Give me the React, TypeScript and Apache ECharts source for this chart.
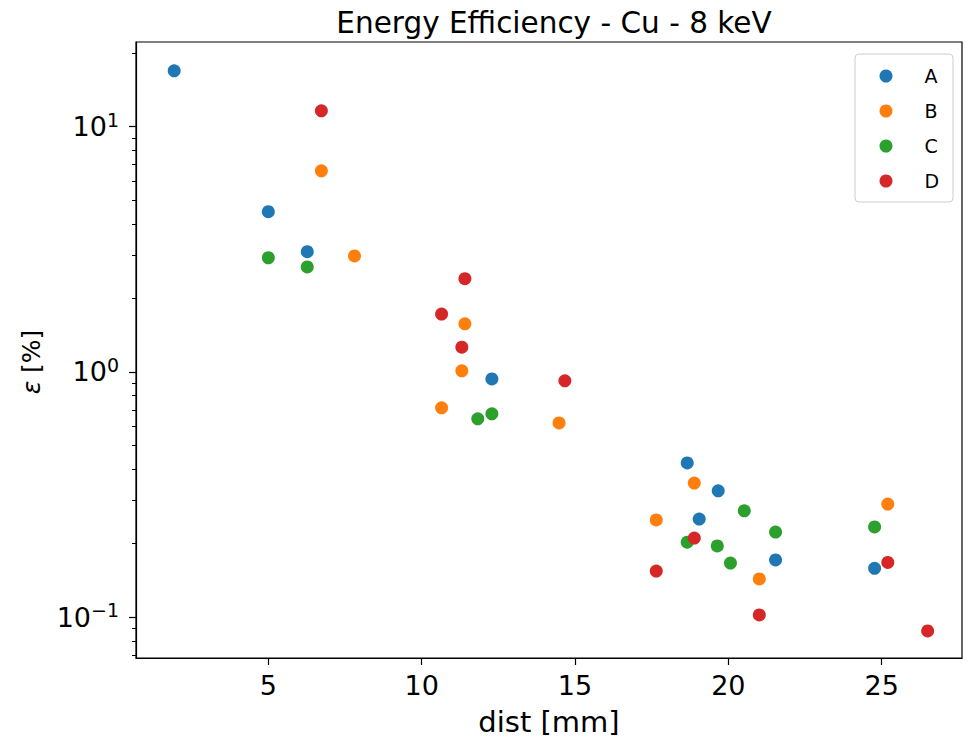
import React, { useEffect, useRef } from "react";
import * as echarts from "echarts";

const seriesNames = ["A", "B", "C", "D"];
const seriesColors = ["#1f77b4", "#ff7f0e", "#2ca02c", "#d62728"];

const aX = [1.93, 5.0, 6.27, 12.29, 18.66, 19.67, 19.05, 21.54, 24.77];
const aY = [16.9, 4.5, 3.09, 0.936, 0.425, 0.327, 0.251, 0.171, 0.158];

const bX = [6.73, 7.81, 11.41, 11.31, 10.65, 14.48, 18.89, 17.65, 21.01, 25.2];
const bY = [6.61, 2.97, 1.57, 1.01, 0.713, 0.619, 0.352, 0.249, 0.143, 0.289];

const cX = [5.0, 6.27, 11.83, 12.29, 18.66, 19.64, 20.07, 20.52, 21.54, 24.77];
const cY = [2.92, 2.68, 0.643, 0.674, 0.202, 0.195, 0.166, 0.271, 0.222, 0.233];

const dX = [6.73, 11.41, 10.65, 11.31, 14.67, 18.89, 17.65, 21.01, 25.2, 26.5];
const dY = [11.6, 2.4, 1.72, 1.26, 0.919, 0.21, 0.154, 0.102, 0.167, 0.0877];

const xTicks = [5, 10, 15, 20, 25];
const yMajorTicks = [0.1, 1, 10];
const yMinorTicks = [0.07, 0.08, 0.09, 0.2, 0.3, 0.4, 0.5, 0.6, 0.7, 0.8, 0.9, 2, 3, 4, 5, 6, 7, 8, 9, 20];

const FONT = "DejaVu Sans";

export default function App() {
  const ref = useRef<HTMLDivElement>(null);
  useEffect(() => {
    if (!ref.current) return;
    const chart = echarts.init(ref.current, undefined, { renderer: "svg" });
    const xs = [aX, bX, cX, dX];
    const ys = [aY, bY, cY, dY];
    const series = seriesNames.map((name, i) => ({
      name,
      type: "scatter",
      symbol: "circle",
      symbolSize: 13,
      itemStyle: { color: seriesColors[i], opacity: 1 },
      data: xs[i].map((x, j) => [x, ys[i][j]]),
    }));
    chart.setOption({
      animation: false,
      backgroundColor: "#ffffff",
      textStyle: { fontFamily: FONT },
      title: {
        text: "Energy Efficiency - Cu - 8 keV",
        left: 549,
        textAlign: "center",
        top: 3,
        textStyle: { fontFamily: FONT, fontSize: 29.5, fontWeight: "normal", color: "#000" },
      },
      grid: {
        left: 136,
        top: 42,
        right: 11,
        bottom: 84,
        show: true,
        borderColor: "#000",
        borderWidth: 1.2,
        backgroundColor: "transparent",
      },
      legend: {
        orient: "vertical",
        left: 879.5,
        top: 66,
        padding: 0,
        itemWidth: 13,
        itemHeight: 13,
        itemGap: 15,
        icon: "circle",
        data: seriesNames,
        textStyle: { fontFamily: FONT, fontSize: 19, color: "#000", lineHeight: 20, padding: [0, 0, 0, 27] },
      },
      graphic: [
        {
          type: "rect",
          z: 1,
          shape: { x: 855, y: 54, width: 98, height: 148, r: 4 },
          style: { fill: "rgba(255,255,255,0.8)", stroke: "#cccccc", lineWidth: 1 },
        },
      ],
      xAxis: {
        type: "value",
        min: 0.685,
        max: 27.62,
        name: "dist [mm]",
        nameLocation: "middle",
        nameGap: 49,
        nameTextStyle: { fontFamily: FONT, fontSize: 29, color: "#000" },
        axisLine: { show: true, lineStyle: { color: "#000", width: 1.2 } },
        axisTick: { show: true, length: 7, lineStyle: { color: "#000", width: 1.2 }, customValues: xTicks },
        axisLabel: {
          show: true,
          margin: 14,
          fontFamily: FONT,
          fontSize: 27,
          color: "#000",
          customValues: xTicks,
        },
        splitLine: { show: false },
      },
      yAxis: [
        {
          type: "log",
          logBase: 10,
          min: 0.06805,
          max: 22.15,
          name: "{i|ε} [%]",
          nameLocation: "middle",
          nameGap: 92,
          nameRotate: 90,
          nameTextStyle: {
            fontFamily: FONT,
            fontSize: 25,
            color: "#000",
            padding: [0, 24, 0, 0],
            rich: { i: { fontFamily: FONT, fontStyle: "italic", fontSize: 25, color: "#000" } },
          },
          axisLine: { show: true, lineStyle: { color: "#000", width: 1.2 } },
          axisTick: { show: true, length: 7, lineStyle: { color: "#000", width: 1.2 }, customValues: yMajorTicks },
          axisLabel: {
            show: true,
            margin: 17,
            color: "#000",
            customValues: yMajorTicks,
            formatter: (v: number) => {
              const e = Math.round(Math.log10(v));
              const exp = e < 0 ? "\u2212" + -e : String(e);
              return "{b|10}{s|" + exp + "}";
            },
            rich: {
              b: { fontFamily: FONT, fontSize: 27, color: "#000" },
              s: { fontFamily: FONT, fontSize: 19, color: "#000", padding: [0, 0, 14, 0] },
            },
          },
          splitLine: { show: false },
        },
        {
          type: "log",
          logBase: 10,
          min: 0.06805,
          max: 22.15,
          position: "left",
          axisLine: { show: false },
          axisTick: { show: true, length: 4, lineStyle: { color: "#000", width: 1 }, customValues: yMinorTicks },
          axisLabel: { show: false },
          splitLine: { show: false },
        },
      ],
      series,
    });
    return () => chart.dispose();
  }, []);
  return (
    <div
      ref={ref}
      style={{ position: "fixed", left: 0, top: 0, width: 973, height: 742, background: "#fff" }}
    />
  );
}
